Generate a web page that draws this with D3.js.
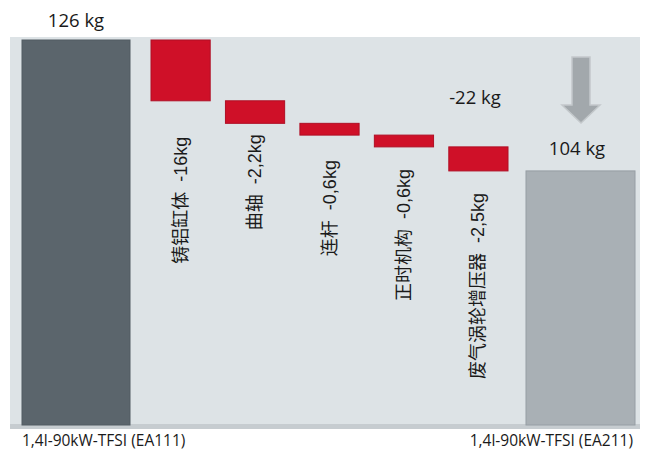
<!DOCTYPE html>
<html>
<head>
<meta charset="utf-8">
<script src="https://cdn.jsdelivr.net/npm/d3@7"></script>
<style>
  html, body { margin: 0; padding: 0; background: #fff; }
  svg { display: block; }
  text.step { white-space: pre; }
</style>
</head>
<body>
<script>
// Engine weight reduction, EA111 -> EA211
const totalNames = ["1,4l-90kW-TFSI (EA111)", "1,4l-90kW-TFSI (EA211)"];
const totalValues = [126, 104];
const totalLabels = ["126 kg", "104 kg"];
const stepNames = ["铸铝缸体", "曲轴", "连杆", "正时机构", "废气涡轮增压器"];
const stepValues = [-16, -2.2, -0.6, -0.6, -2.5];
const stepLabels = ["-16kg", "-2,2kg", "-0,6kg", "-0,6kg", "-2,5kg"];
const diffLabel = "-22 kg";

const W = 647, H = 452;
const svg = d3.select("body").append("svg").attr("width", W).attr("height", H);

const panel = { x0: 10, x1: 640, y0: 37, y1: 429 };
const base = 425;

// Totals on a truncated linear scale
const y = d3.scaleLinear().domain([61.3, 126]).range([base, 40]);

// Step heights on a square-root scale that spans the drop between the totals
const span = y(totalValues[1]) - y(totalValues[0]);
const sqrtSum = d3.sum(stepValues, v => Math.sqrt(Math.abs(v)));
const h = d3.scaleSqrt().domain([0, 1]).range([0, span / sqrtSum]);

const xStep = d3.scaleBand().domain(stepNames).range([151, 508]).paddingInner(0.205).paddingOuter(0);
const totalX = [[22, 130], [526, 635]];

// Background panel
svg.append("rect").attr("x", panel.x0).attr("y", panel.y0)
  .attr("width", panel.x1 - panel.x0).attr("height", panel.y1 - panel.y0)
  .attr("fill", "#dde3e6");
svg.append("rect").attr("x", panel.x0).attr("y", base - 1)
  .attr("width", panel.x1 - panel.x0).attr("height", panel.y1 - base + 1)
  .attr("fill", "#c6ccd0");

// Total bars
const totalFill = ["#5b656c", "#a9b0b5"];
const totalStroke = ["#525c63", "#969ea4"];
totalValues.forEach((v, i) => {
  svg.append("rect")
    .attr("x", totalX[i][0]).attr("y", y(v))
    .attr("width", totalX[i][1] - totalX[i][0]).attr("height", base - y(v))
    .attr("fill", totalFill[i]).attr("stroke", totalStroke[i]).attr("stroke-width", 1);
});

// Step bars
let cum = y(totalValues[0]);
const steps = stepValues.map((v, i) => {
  const top = cum;
  const hh = h(Math.abs(v));
  cum += hh;
  return { name: stepNames[i], label: stepLabels[i], top, bottom: cum };
});

svg.selectAll("rect.step").data(steps).enter().append("rect")
  .attr("class", "step")
  .attr("x", d => xStep(d.name)).attr("y", d => d.top)
  .attr("width", xStep.bandwidth()).attr("height", d => d.bottom - d.top)
  .attr("fill", "#cf1028").attr("stroke", "#b00f25").attr("stroke-width", 1);

// Vertical step labels
const labelGap = [36, 11, 25, 22, 22];
svg.selectAll("text.step").data(steps).enter().append("text")
  .attr("class", "step")
  .attr("transform", (d, i) => `translate(${xStep(d.name) + xStep.bandwidth() / 2 + 6},${d.bottom + labelGap[i]}) rotate(-90)`)
  .attr("text-anchor", "end")
  .attr("font-family", "'Liberation Sans', 'Noto Sans CJK SC', sans-serif")
  .attr("font-size", 18)
  .attr("fill", "#1a1a1a")
  .text(d => d.name + "  " + d.label);

// Total value labels
const labelFont = "'Open Sans', 'DejaVu Sans', sans-serif";
svg.append("text").attr("x", 76).attr("y", 27).attr("text-anchor", "middle")
  .attr("font-family", labelFont).attr("font-size", 18.5).attr("fill", "#1a1a1a")
  .text(totalLabels[0]);
svg.append("text").attr("x", 577).attr("y", 155).attr("text-anchor", "middle")
  .attr("font-family", labelFont).attr("font-size", 18.5).attr("fill", "#1a1a1a")
  .text(totalLabels[1]);
svg.append("text").attr("x", 475).attr("y", 104).attr("text-anchor", "middle")
  .attr("font-family", labelFont).attr("font-size", 18.5).attr("fill", "#1a1a1a")
  .text(diffLabel);

// Down arrow
const ax = 581;
const arrow = d3.path();
arrow.moveTo(ax - 9, 57);
arrow.lineTo(ax + 9, 57);
arrow.lineTo(ax + 9, 105);
arrow.lineTo(ax + 19, 105);
arrow.lineTo(ax, 123);
arrow.lineTo(ax - 19, 105);
arrow.lineTo(ax - 9, 105);
arrow.closePath();
svg.append("path").attr("d", arrow.toString())
  .attr("fill", "#a2a8ac").attr("stroke", "#c3c8cb").attr("stroke-width", 1.5);

// Category labels under the totals
svg.append("text").attr("x", 22).attr("y", 446)
  .attr("font-family", labelFont).attr("font-size", 15.5).attr("fill", "#1a1a1a")
  .text(totalNames[0]);
svg.append("text").attr("x", 633).attr("y", 446).attr("text-anchor", "end")
  .attr("font-family", labelFont).attr("font-size", 15.5).attr("fill", "#1a1a1a")
  .text(totalNames[1]);
</script>
</body>
</html>
